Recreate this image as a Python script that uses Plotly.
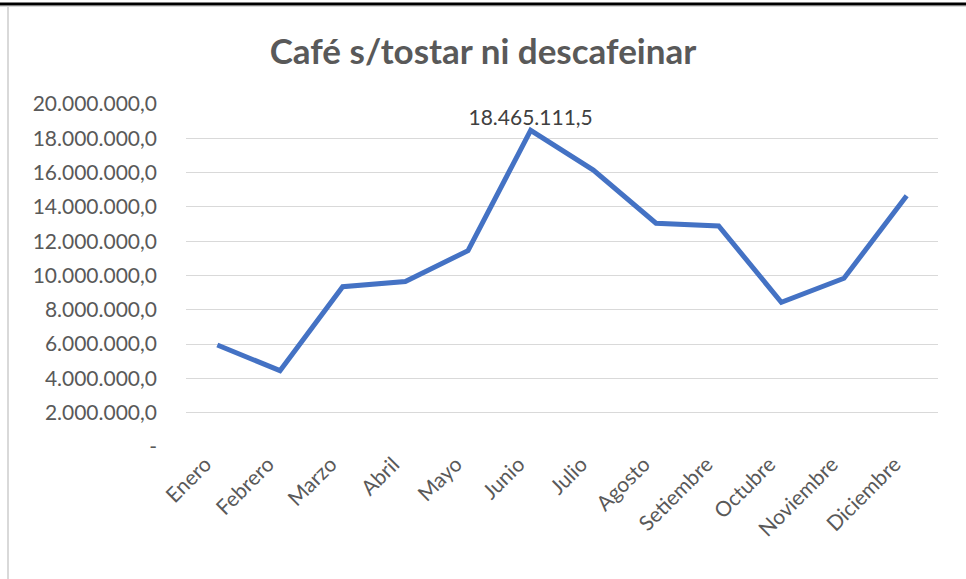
import plotly.graph_objects as go

months = ["Enero", "Febrero", "Marzo", "Abril", "Mayo", "Junio", "Julio",
          "Agosto", "Setiembre", "Octubre", "Noviembre", "Diciembre"]
values = [5950000, 4450000, 9350000, 9650000, 11450000, 18465111.5, 16150000,
          13050000, 12890000, 8440000, 9840000, 14650000]
y_ticks = [0, 2000000, 4000000, 6000000, 8000000, 10000000, 12000000,
           14000000, 16000000, 18000000, 20000000]
title_text = "Café s/tostar ni descafeinar"
label_index = 5


def fmt(v):
    if v == 0:
        return "-"
    s = f"{v:,.1f}"
    return s.replace(",", "X").replace(".", ",").replace("X", ".")


tick_text = [fmt(v) for v in y_ticks]
texts = [fmt(v) if i == label_index else "" for i, v in enumerate(values)]

W, H = 966, 579
ML, MR, MT, MB = 186, 28, 104, 132
pw, ph = W - ML - MR, H - MT - MB


def px(x):
    return (x - ML) / pw


def py(y):
    return (H - MB - y) / ph


fig = go.Figure()
fig.add_trace(go.Scatter(
    x=months, y=values, mode="lines+text", text=texts,
    textposition="top center",
    textfont=dict(family="Lato", size=21, color="#404040"),
    line=dict(color="#4472C4", width=5),
    hoverinfo="skip", cliponaxis=False,
))

fig.update_layout(
    width=W, height=H,
    margin=dict(l=ML, r=MR, t=MT, b=MB),
    paper_bgcolor="white", plot_bgcolor="white",
    showlegend=False,
    title=dict(text="<b>" + title_text + "</b>", x=0.5, xanchor="center",
               y=1 - 52 / H, yanchor="middle",
               font=dict(family="Lato", size=35, color="#595959")),
    xaxis=dict(type="category", tickangle=-45, showgrid=False, showline=False,
               ticks="", tickfont=dict(family="Lato", size=21, color="#595959"),
               ticklabelshift=-12,
               range=[-0.5, len(months) - 0.5]),
    yaxis=dict(range=[0, 20000000], tickvals=y_ticks, ticktext=tick_text,
               showgrid=True, gridcolor="#D9D9D9", gridwidth=1.3,
               zeroline=False, showline=False, ticks="",
               ticklabelstandoff=28,
               tickfont=dict(family="Lato", size=21, color="#595959")),
    shapes=[
        dict(type="line", xref="paper", yref="paper", x0=px(0), x1=px(W),
             y0=py(4), y1=py(4), line=dict(color="black", width=3)),
        dict(type="line", xref="paper", yref="paper", x0=px(0), x1=px(W),
             y0=py(6.5), y1=py(6.5), line=dict(color="#D9D9D9", width=1)),
        dict(type="line", xref="paper", yref="paper", x0=px(8), x1=px(8),
             y0=py(6), y1=py(H), line=dict(color="#D9D9D9", width=2)),
    ],
)

fig.write_html("out.html", config={"displayModeBar": False},
               post_script="document.body.style.margin='0';document.body.style.overflow='hidden';")
